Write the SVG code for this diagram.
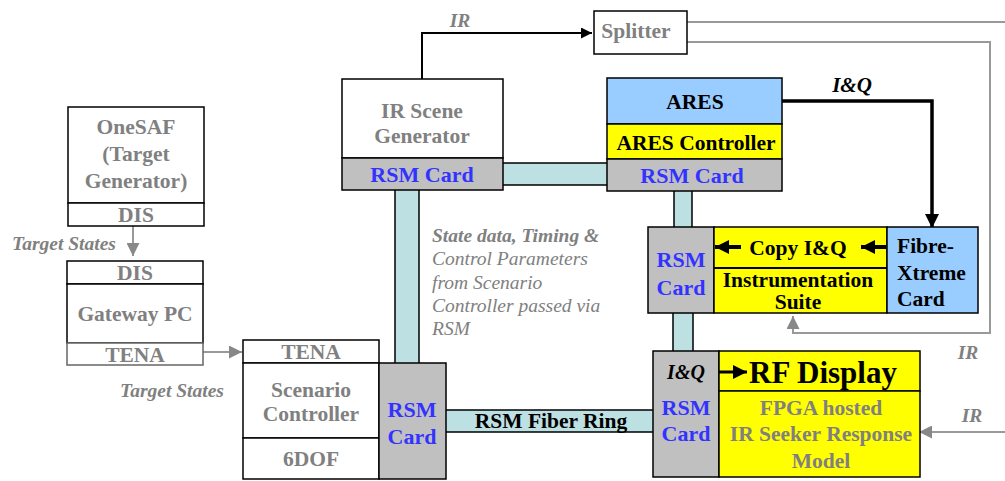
<svg xmlns="http://www.w3.org/2000/svg" width="1005" height="481" viewBox="0 0 1005 481">
<style>
  text { font-family: "Liberation Serif", "Times New Roman", serif; font-weight: bold; }
  .t { font-size: 21.5px; fill: #808080; text-anchor: middle; }
  .k { font-size: 21.5px; fill: #000; text-anchor: middle; }
  .rsm { font-size: 22px; fill: #3333ff; text-anchor: middle; }
  .lbl { font-size: 19.5px; fill: #808080; font-style: italic; }
  .mid { text-anchor: middle; }
  .start { text-anchor: start; }
  .box { fill: #fff; stroke: #000; stroke-width: 1.5; }
  .gbox { fill: #fff; stroke: #666; stroke-width: 1.5; }
  .card { fill: #c0c0c0; stroke: #000; stroke-width: 1.5; }
  .blue { fill: #99ccff; stroke: #000; stroke-width: 1.5; }
  .yel { fill: #ffff00; stroke: #000; stroke-width: 1.5; }
  .bus { fill: #bde0e2; stroke: #000; stroke-width: 1.5; }
  .gl { fill: none; stroke: #999; stroke-width: 2; }
  .bl { fill: none; stroke: #000; stroke-width: 2; }
  .fat { fill: none; stroke: #000; stroke-width: 4; }
</style>
<defs>
  <marker id="ah" viewBox="0 0 10 10" refX="10" refY="5" markerWidth="11" markerHeight="11" orient="auto" markerUnits="userSpaceOnUse">
    <path d="M0,0 L10,5 L0,10 z" fill="#000"/>
  </marker>
  <marker id="ahBig" viewBox="0 0 10 10" refX="10" refY="5" markerWidth="14" markerHeight="14" orient="auto" markerUnits="userSpaceOnUse">
    <path d="M0,0 L10,5 L0,10 z" fill="#000"/>
  </marker>
  <marker id="ahG" viewBox="0 0 10 10" refX="10" refY="5" markerWidth="13" markerHeight="13" orient="auto" markerUnits="userSpaceOnUse">
    <path d="M0,0 L10,5 L0,10 z" fill="#888"/>
  </marker>
</defs>

<!-- connectors: RSM fibre links and signal paths -->
<g id="connectors">
  <rect class="bus" x="395" y="189" width="24" height="175"/>
  <rect class="bus" x="502" y="163" width="106" height="22"/>
  <rect class="bus" x="674" y="190" width="18" height="38"/>
  <rect class="bus" x="673" y="312" width="20" height="40"/>
  <rect class="bus" x="445" y="410" width="209" height="22"/>

  <path class="gl" d="M133,226 V256" marker-end="url(#ahG)"/>
  <path class="gl" d="M203,352 H242" marker-end="url(#ahG)"/>
  <path class="bl" d="M422,79 V33 H592" marker-end="url(#ah)"/>
  <path class="gl" d="M687,22 H1005"/>
  <path class="gl" d="M687,42 H990 V333 H793 V316" marker-end="url(#ahG)"/>
  <path class="gl" d="M1005,432 H919" marker-end="url(#ahG)"/>
  <path fill="none" stroke="#000" stroke-width="3.5" d="M782,101 H932 V228" marker-end="url(#ahBig)"/>

  <text class="lbl mid" x="460" y="27">IR</text>
  <text class="lbl mid" x="852" y="92" style="fill:#000;font-size:21px">I&amp;Q</text>
  <text class="lbl mid" x="64" y="250">Target States</text>
  <text class="lbl mid" x="172" y="397">Target States</text>
  <text class="lbl mid" x="968" y="359">IR</text>
  <text class="lbl mid" x="972" y="422">IR</text>
  <text class="lbl" x="432" y="242">State data, Timing &amp;</text>
  <text class="lbl" x="432" y="265" style="font-weight:normal">Control Parameters</text>
  <text class="lbl" x="432" y="289" style="font-weight:normal">from Scenario</text>
  <text class="lbl" x="432" y="312" style="font-weight:normal">Controller passed via</text>
  <text class="lbl" x="432" y="335" style="font-weight:normal">RSM</text>
  <text class="k" x="551" y="428">RSM Fiber Ring</text>
</g>

<g id="onesaf">
  <rect class="box" x="68" y="107" width="136" height="96"/>
  <rect class="box" x="68" y="203" width="136" height="23"/>
  <text class="t" x="136" y="134">OneSAF</text>
  <text class="t" x="136" y="161">(Target</text>
  <text class="t" x="136" y="188">Generator)</text>
  <text class="t" x="136" y="222">DIS</text>
</g>

<g id="gateway">
  <rect class="box" x="67" y="261" width="136" height="23"/>
  <rect class="box" x="67" y="284" width="136" height="59"/>
  <rect class="gbox" x="67" y="343" width="136" height="22"/>
  <text class="t" x="135" y="280">DIS</text>
  <text class="t" x="135" y="321">Gateway PC</text>
  <text class="t" x="135" y="362">TENA</text>
</g>

<g id="scenario">
  <rect class="box" x="243" y="340" width="136" height="23"/>
  <rect class="box" x="243" y="363" width="136" height="75"/>
  <rect class="box" x="243" y="438" width="136" height="41"/>
  <rect class="card" x="379" y="363" width="67" height="116"/>
  <text class="t" x="311" y="359">TENA</text>
  <text class="t" x="311" y="397">Scenario</text>
  <text class="t" x="311" y="421">Controller</text>
  <text class="t" x="311" y="466">6DOF</text>
  <text class="rsm" x="412" y="417">RSM</text>
  <text class="rsm" x="412" y="444">Card</text>
</g>

<g id="irscene">
  <rect class="box" x="342" y="79" width="161" height="79"/>
  <rect class="card" x="342" y="158" width="161" height="32"/>
  <text class="t" x="422" y="118">IR Scene</text>
  <text class="t" x="422" y="143">Generator</text>
  <text class="rsm" x="422" y="182">RSM Card</text>
</g>

<g id="splitter">
  <rect class="box" x="594" y="11" width="93" height="43"/>
  <text class="t" x="636" y="38">Splitter</text>
</g>

<g id="ares">
  <rect class="blue" x="607" y="78" width="175" height="46"/>
  <rect class="yel" x="607" y="124" width="175" height="35"/>
  <rect class="card" x="607" y="159" width="175" height="32"/>
  <text class="k" x="695" y="109">ARES</text>
  <text class="k" x="696" y="150">ARES Controller</text>
  <text class="rsm" x="692" y="183">RSM Card</text>
</g>

<g id="instrumentation">
  <rect class="card" x="648" y="227" width="66" height="86"/>
  <rect class="yel" x="714" y="227" width="173" height="86"/>
  <line x1="714" y1="268" x2="887" y2="268" stroke="#000" stroke-width="2"/>
  <rect class="blue" x="887" y="227" width="91" height="86"/>
  <!-- I&Q copied from the Fibre-Xtreme card through to the RSM card -->
  <path class="fat" d="M741,247 H715" marker-end="url(#ahBig)"/>
  <path class="fat" d="M886,247 H861" marker-end="url(#ahBig)"/>
  <text class="rsm" x="681" y="267">RSM</text>
  <text class="rsm" x="681" y="295">Card</text>
  <text class="k" x="798" y="255">Copy I&amp;Q</text>
  <text class="k" x="798" y="287">Instrumentation</text>
  <text class="k" x="798" y="309">Suite</text>
  <text class="k start" x="897" y="253">Fibre-</text>
  <text class="k start" x="897" y="280">Xtreme</text>
  <text class="k start" x="897" y="306">Card</text>
</g>

<g id="rfdisplay">
  <rect class="card" x="653" y="351" width="66" height="126"/>
  <rect class="yel" x="719" y="351" width="201" height="40" stroke-width="2.5"/>
  <rect class="yel" x="719" y="391" width="201" height="86"/>
  <path fill="none" stroke="#000" stroke-width="3" d="M719,372 H747" marker-end="url(#ahBig)"/>
  <text class="k" x="686" y="379" style="font-style:italic;font-size:20px">I&amp;Q</text>
  <text class="rsm" x="686" y="415">RSM</text>
  <text class="rsm" x="686" y="441">Card</text>
  <text class="k" x="823" y="383" style="font-size:31px">RF Display</text>
  <text class="t" x="821" y="415">FPGA hosted</text>
  <text class="t" x="821" y="441">IR Seeker Response</text>
  <text class="t" x="821" y="468">Model</text>
</g>
</svg>
